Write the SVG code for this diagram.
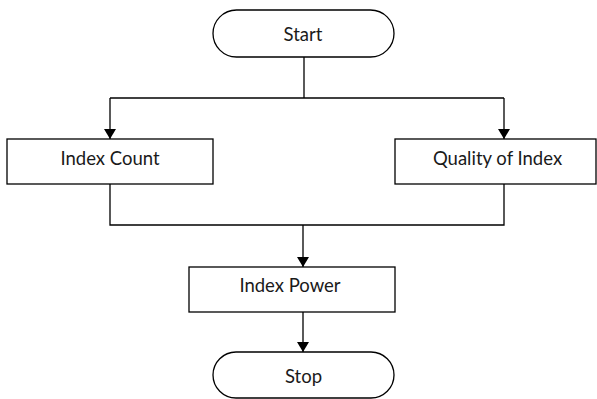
<svg xmlns="http://www.w3.org/2000/svg" width="597" height="399" viewBox="0 0 597 399">
  <style>
    .shape { fill: #ffffff; stroke: #000000; stroke-width: 1.3; }
    .label { font-family: Lato, "Open Sans", sans-serif; font-size: 18.5px; fill: #1a1a1a; text-anchor: middle; dominant-baseline: central; }
    .wire { fill: none; stroke: #000000; stroke-width: 1.3; }
  </style>
  <defs>
    <marker id="arrow" viewBox="0 0 10 12" refX="10" refY="6" markerWidth="10" markerHeight="12" markerUnits="userSpaceOnUse" orient="auto">
      <path d="M0,0 L10,6 L0,12 Z" fill="#000000"/>
    </marker>
  </defs>
  <rect width="597" height="399" fill="#ffffff"/>

  <g id="connectors">
    <path class="wire" d="M304,57 V98"/>
    <path class="wire" d="M110,98 H504"/>
    <path class="wire" d="M110,98 V139" marker-end="url(#arrow)"/>
    <path class="wire" d="M504,98 V139" marker-end="url(#arrow)"/>
    <path class="wire" d="M110,184 V225 H504 V184"/>
    <path class="wire" d="M303,225 V267" marker-end="url(#arrow)"/>
    <path class="wire" d="M303,312 V352" marker-end="url(#arrow)"/>
  </g>

  <g id="start">
    <rect class="shape" x="213" y="10" width="181" height="47" rx="23.5" ry="23.5"/>
    <text class="label" x="303" y="34">Start</text>
  </g>

  <g id="index-count">
    <rect class="shape" x="7" y="139" width="206" height="45"/>
    <text class="label" x="110" y="158">Index Count</text>
  </g>

  <g id="quality-of-index">
    <rect class="shape" x="395" y="139" width="201" height="45"/>
    <text class="label" x="497.5" y="158">Quality of Index</text>
  </g>

  <g id="index-power">
    <rect class="shape" x="189" y="267" width="206" height="45"/>
    <text class="label" x="290" y="285">Index Power</text>
  </g>

  <g id="stop">
    <rect class="shape" x="213" y="352" width="181" height="46" rx="23" ry="23"/>
    <text class="label" x="303.5" y="376">Stop</text>
  </g>
</svg>
